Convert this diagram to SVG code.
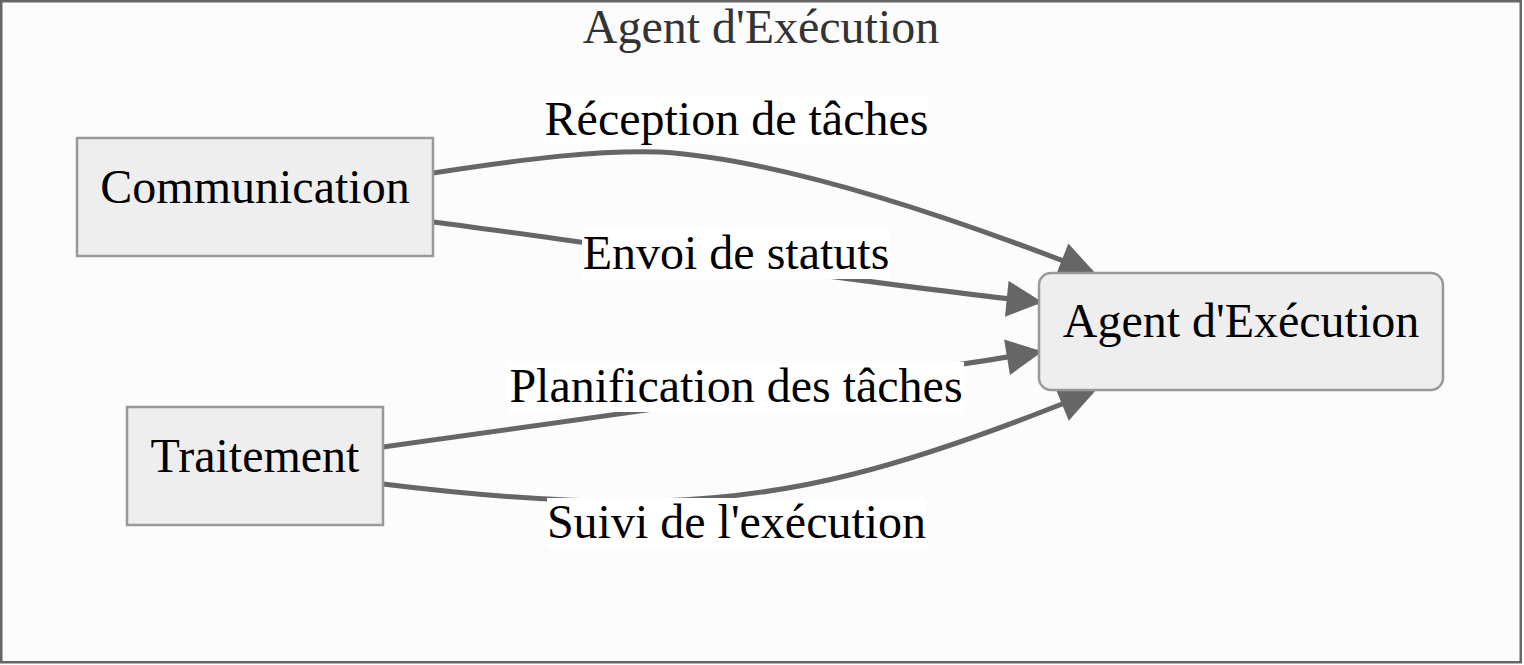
<svg xmlns="http://www.w3.org/2000/svg" width="1524" height="665" viewBox="0 0 1524 665">
<style>
  .frame { fill: #fcfcfc; stroke: #666666; stroke-width: 2.5; }
  .title { font-family: "Liberation Serif", "Times New Roman", serif; font-size: 48px; fill: #333333; text-anchor: middle; }
  .node rect { fill: #eeeeee; stroke: #999999; stroke-width: 2.5; }
  .node text, .lbl text { font-family: "Liberation Serif", "Times New Roman", serif; font-size: 48px; fill: #000000; text-anchor: middle; }
  .edge { fill: none; stroke: #666666; stroke-width: 5; }
  .lbl rect { fill: #ffffff; stroke: none; }
</style>
<defs>
  <marker id="arrow" viewBox="0 0 10 10" refX="9" refY="5" markerUnits="userSpaceOnUse" markerWidth="38" markerHeight="36" orient="auto">
    <path d="M0,0 L10,5 L0,10 z" fill="#666666"/>
  </marker>
</defs>
<rect class="frame" x="1.25" y="1.25" width="1519.5" height="661"/>
<text class="title" x="761" y="43">Agent d'Exécution</text>

<g id="connectors">
  <path id="e1" class="edge" d="M433,173 C530,158 600,150 660,152 C760,158 900,197 1092,272" marker-end="url(#arrow)"/>
  <path id="e2" class="edge" d="M433,222 C560,238 880,286 1039,302" marker-end="url(#arrow)"/>
  <path id="e3" class="edge" d="M383,447 C520,428 880,378 1039,352" marker-end="url(#arrow)"/>
  <path id="e4" class="edge" d="M383,484 C480,496 580,503 660,501 C790,497 900,470 1092,392" marker-end="url(#arrow)"/>
  <g class="lbl">
    <rect x="544" y="95" width="385" height="50"/>
    <text x="736.5" y="135">Réception de tâches</text>
    <rect x="582" y="229" width="308" height="50"/>
    <text x="736" y="269">Envoi de statuts</text>
    <rect x="508" y="362" width="456" height="50"/>
    <text x="736" y="402">Planification des tâches</text>
    <rect x="547" y="498" width="379" height="50"/>
    <text x="736.5" y="538">Suivi de l'exécution</text>
  </g>
</g>

<g id="communication" class="node">
  <rect x="77" y="138" width="356" height="118"/>
  <text x="255" y="203">Communication</text>
</g>
<g id="traitement" class="node">
  <rect x="127" y="407" width="256" height="118"/>
  <text x="255" y="472">Traitement</text>
</g>
<g id="agent" class="node">
  <rect x="1039" y="273" width="404" height="117" rx="12" ry="12"/>
  <text x="1241" y="337">Agent d'Exécution</text>
</g>
</svg>
